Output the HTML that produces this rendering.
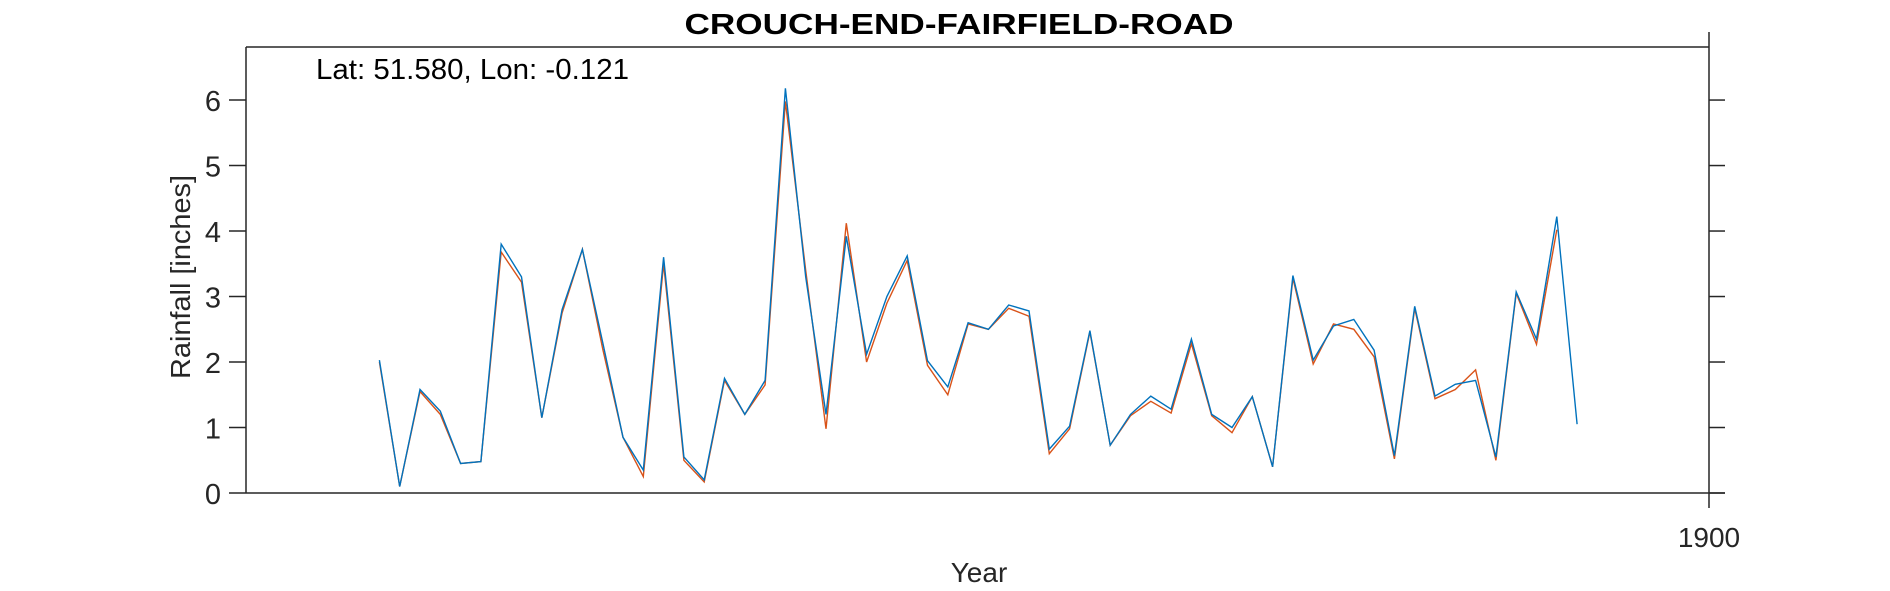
<!DOCTYPE html>
<html><head><meta charset="utf-8"><style>
html,body{margin:0;padding:0;background:#fff;}
svg{display:block;font-family:"Liberation Sans",Arial,sans-serif;}
</style></head><body>
<svg id="chart" width="1890" height="591" viewBox="0 0 1890 591">
<text x="959" y="34" text-anchor="middle" font-size="29" font-weight="bold" fill="#000" textLength="549" lengthAdjust="spacingAndGlyphs">CROUCH-END-FAIRFIELD-ROAD</text>
<rect x="246" y="47" width="1463" height="446" fill="#fff" stroke="none"/>
<g id="axes" stroke="#262626" stroke-width="1.5" fill="none">
<line x1="246" y1="47" x2="1709" y2="47"/>
<line x1="246" y1="47" x2="246" y2="493"/>
<line x1="246" y1="493" x2="1725" y2="493"/>
<line x1="1709" y1="32" x2="1709" y2="508"/>
</g>
<g id="ticks"></g>
<g id="series"></g>
<text x="316" y="79" font-size="29" fill="#000" textLength="313" lengthAdjust="spacingAndGlyphs">Lat: 51.580, Lon: -0.121</text>
<text x="979" y="582" text-anchor="middle" font-size="28" fill="#262626">Year</text>
<text transform="translate(190,277) rotate(-90)" text-anchor="middle" font-size="28" fill="#262626" textLength="204" lengthAdjust="spacingAndGlyphs">Rainfall [inches]</text>
</svg>
<script>
const startYear = 1834.5;
const blueValues = [2.03,0.1,1.58,1.25,0.45,0.48,3.8,3.3,1.15,2.8,3.72,2.3,0.85,0.35,3.6,0.55,0.2,1.75,1.2,1.72,6.18,3.3,1.2,3.92,2.12,3.0,3.62,2.02,1.62,2.6,2.5,2.87,2.78,0.67,1.02,2.48,0.73,1.2,1.48,1.28,2.35,1.2,1.0,1.47,0.4,3.32,2.03,2.55,2.65,2.18,0.57,2.85,1.48,1.66,1.72,0.55,3.07,2.35,4.22,1.05];
const orangeValues = [2.0,0.1,1.55,1.2,0.45,0.48,3.68,3.22,1.15,2.75,3.72,2.2,0.85,0.25,3.5,0.5,0.17,1.72,1.2,1.65,5.98,3.4,0.98,4.12,2.0,2.9,3.55,1.95,1.5,2.58,2.5,2.82,2.7,0.6,0.98,2.46,0.73,1.18,1.4,1.22,2.28,1.18,0.92,1.47,0.4,3.28,1.97,2.58,2.5,2.08,0.52,2.82,1.44,1.58,1.88,0.5,3.05,2.27,4.02];
const yTicks = [0,1,2,3,4,5,6];
const xTicks = [1900];
const NS="http://www.w3.org/2000/svg";
const X0=246,X1=1709,Y0=493,Y1=47;
const xMin=1827.93,xMax=1900,yMin=0,yMax=6.81;
function xs(v){return X0+(v-xMin)/(xMax-xMin)*(X1-X0);}
function ys(v){return Y0-(v-yMin)/(yMax-yMin)*(Y0-Y1);}
const tg=document.getElementById('ticks');
yTicks.forEach(t=>{
  const y=ys(t);
  const l=document.createElementNS(NS,'line');
  l.setAttribute('x1',229);l.setAttribute('x2',246);l.setAttribute('y1',y);l.setAttribute('y2',y);
  l.setAttribute('stroke','#262626');l.setAttribute('stroke-width','1.5');
  
  
  tg.appendChild(l);
  const r=document.createElementNS(NS,'line');
  r.setAttribute('x1',1709);r.setAttribute('x2',1725);r.setAttribute('y1',y);r.setAttribute('y2',y);
  r.setAttribute('stroke','#262626');r.setAttribute('stroke-width','1.5');
  
  
  tg.appendChild(r);
  const tx=document.createElementNS(NS,'text');
  tx.setAttribute('x',221);tx.setAttribute('y',y+11);tx.setAttribute('text-anchor','end');
  tx.setAttribute('font-size','29');tx.setAttribute('fill','#262626');
  tx.textContent=t;
  
  
  tg.appendChild(tx);
});
xTicks.forEach(t=>{
  const x=xs(t);
  const tx=document.createElementNS(NS,'text');
  tx.setAttribute('x',x);tx.setAttribute('y',547);tx.setAttribute('text-anchor','middle');
  tx.setAttribute('font-size','28');tx.setAttribute('fill','#262626');
  tx.textContent=t;
  
  
  tg.appendChild(tx);
});
const sg=document.getElementById('series');
function pts(vals){return vals.map((v,i)=>xs(startYear+i).toFixed(1)+','+ys(v).toFixed(1)).join(' ');}
const po=document.createElementNS(NS,'polyline');
po.setAttribute('points',pts(orangeValues));
po.setAttribute('fill','none');po.setAttribute('stroke','#D95319');po.setAttribute('stroke-width','1.4');


sg.appendChild(po);
const pb=document.createElementNS(NS,'polyline');
pb.setAttribute('points',pts(blueValues));
pb.setAttribute('fill','none');pb.setAttribute('stroke','#0072BD');pb.setAttribute('stroke-width','1.4');


sg.appendChild(pb);
</script>
</body></html>
